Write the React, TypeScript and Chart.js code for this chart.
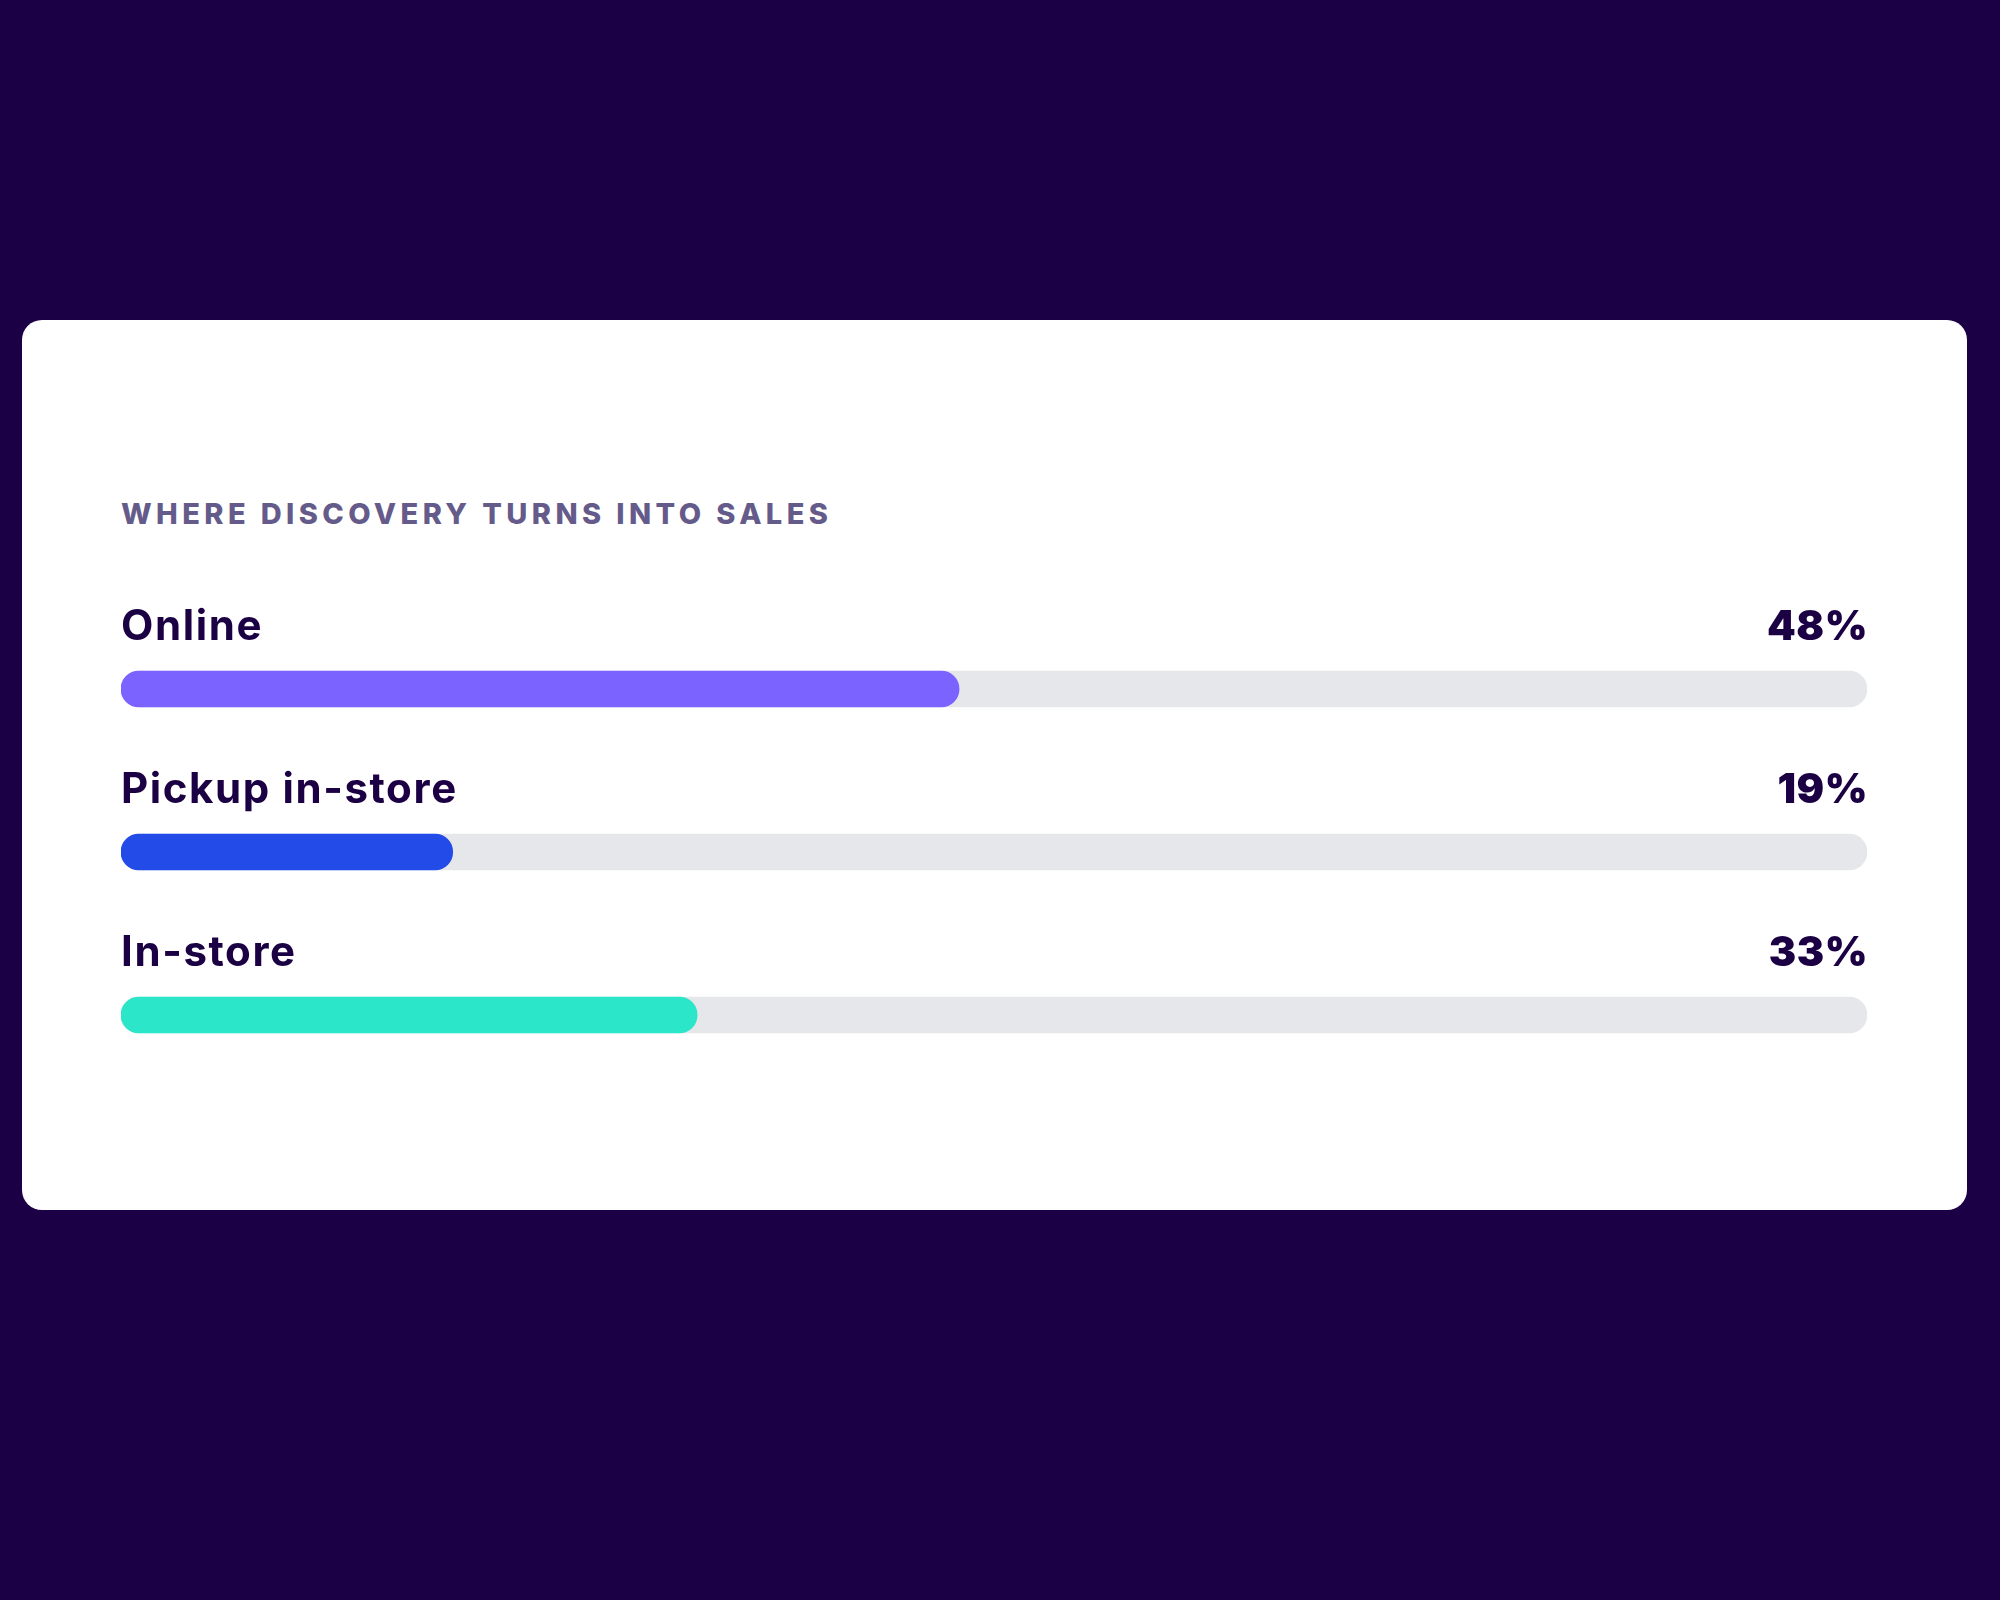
import React, { useEffect, useRef } from "react";
import { Chart, registerables } from "chart.js";

Chart.register(...registerables);

const TITLE = "WHERE DISCOVERY TURNS INTO SALES";
const categories = ["Online", "Pickup in-store", "In-store"];
const shares = [48, 19, 33];
const trackValues = [100, 100, 100];
const barColors = ["#7B63FF", "#234BE8", "#2BE6C9"];

const BG = "#1C0045";
const INK = "#1B0044";
const TRACK = "#E6E7EB";

const labelPlugin = {
  id: "rowLabels",
  afterDatasetsDraw(chart: any) {
    const { ctx, chartArea, scales } = chart;
    const y = scales.y;
    ctx.save();
    ctx.fillStyle = INK;
    ctx.textBaseline = "alphabetic";
    categories.forEach((cat, i) => {
      const cy = y.getPixelForValue(i);
      const base = cy - 18 - 31;
      ctx.font = "700 42px Inter";
      (ctx as any).letterSpacing = "1.6px";
      ctx.textAlign = "left";
      ctx.fillText(cat, chartArea.left, base);
      ctx.font = "900 41px Inter";
      (ctx as any).letterSpacing = "0.5px";
      ctx.textAlign = "right";
      ctx.fillText(`${shares[i]}%`, chartArea.right + 1, base);
    });
    ctx.restore();
  },
};

export default function App() {
  const ref = useRef<HTMLCanvasElement | null>(null);
  useEffect(() => {
    if (!ref.current) return;
    const chart = new Chart(ref.current, {
      type: "bar",
      data: {
        labels: categories,
        datasets: [
          {
            label: "Share",
            data: shares,
            backgroundColor: barColors,
            borderRadius: 18,
            borderSkipped: false,
            barThickness: 36,
            grouped: false,
            order: 0,
          } as any,
          {
            label: "Track",
            data: trackValues,
            backgroundColor: TRACK,
            borderRadius: 18,
            borderSkipped: false,
            barThickness: 36,
            grouped: false,
            order: 1,
          } as any,
        ],
      },
      options: {
        indexAxis: "y",
        responsive: false,
        animation: false,
        devicePixelRatio: 1,
        layout: { padding: { top: 47.5, bottom: 23.5, left: 0, right: 0 } },
        scales: {
          x: { display: false, min: 0, max: 100 },
          y: { display: false },
        },
        plugins: { legend: { display: false }, tooltip: { enabled: false } },
      },
      plugins: [labelPlugin],
    });
    return () => chart.destroy();
  }, []);

  return (
    <div
      style={{
        position: "absolute",
        left: 0,
        top: 0,
        width: 2000,
        height: 1600,
        background: BG,
        overflow: "hidden",
      }}
    >
      <div
        style={{
          position: "absolute",
          left: 22,
          top: 320,
          width: 1945,
          height: 890,
          background: "#FFFFFF",
          borderRadius: 20,
        }}
      />
      <div
        style={{
          position: "absolute",
          left: 121,
          top: 499,
          fontFamily: "Inter",
          fontWeight: 800,
          fontSize: 29,
          lineHeight: "29px",
          letterSpacing: "4.4px",
          color: "#655B8A",
          whiteSpace: "nowrap",
        }}
      >
        {TITLE}
      </div>
      <canvas
        ref={ref}
        width={1746}
        height={560}
        style={{ position: "absolute", left: 121, top: 560, width: 1746, height: 560 }}
      />
    </div>
  );
}
